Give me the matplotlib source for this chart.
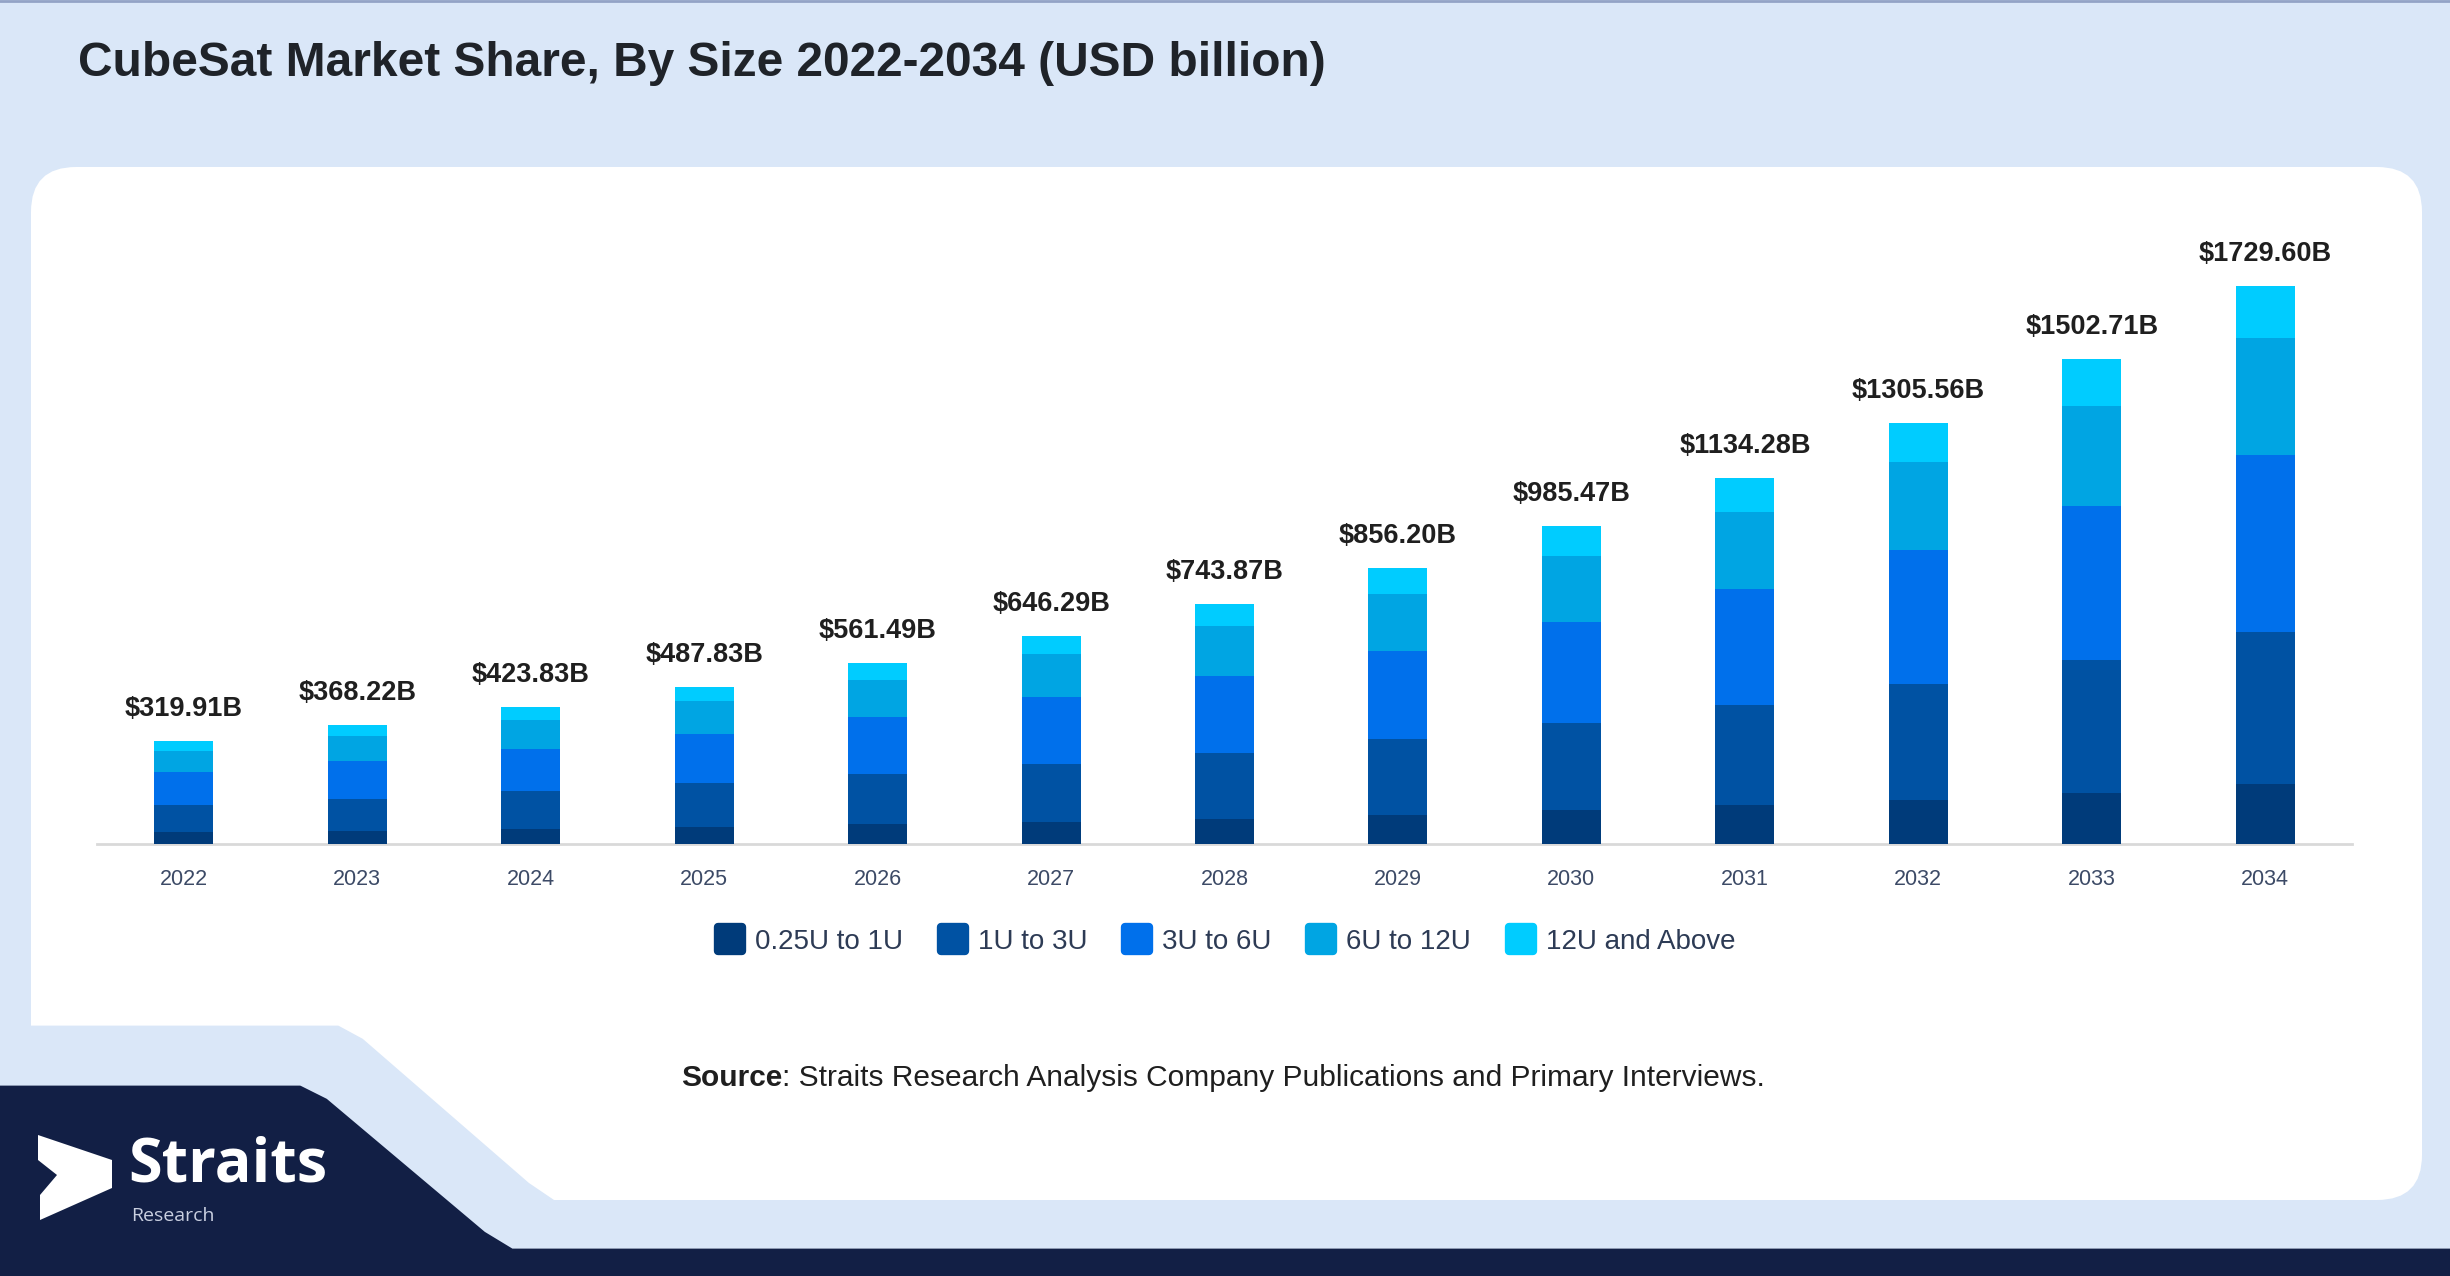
import matplotlib.pyplot as plt
from matplotlib.patches import FancyBboxPatch, Polygon
from matplotlib.lines import Line2D
from matplotlib.markers import MarkerStyle

plt.rcParams['font.family'] = ['Liberation Sans', 'DejaVu Sans']

# Dados (USD bilhões)
anos = ['2022', '2023', '2024', '2025', '2026', '2027', '2028',
        '2029', '2030', '2031', '2032', '2033', '2034']
totais = [319.91, 368.22, 423.83, 487.83, 561.49, 646.29, 743.87,
          856.20, 985.47, 1134.28, 1305.56, 1502.71, 1729.60]

seg_025_1 = [36.8, 41.1, 46.4, 53.6, 63.0, 69.5, 77.5, 90.0, 106.4, 121.2, 135.8, 157.4, 187.0]
seg_1_3 = [84.8, 98.7, 117.6, 134.1, 152.8, 178.4, 205.6, 236.6, 269.3, 311.2, 360.3, 414.4, 471.0]
seg_3_6 = [101.2, 116.2, 132.0, 153.7, 177.5, 206.4, 236.6, 271.5, 312.3, 359.7, 415.5, 477.6, 549.0]
seg_6_12 = [64.4, 79.2, 88.7, 103.1, 115.6, 133.8, 155.0, 177.4, 206.0, 237.1, 271.6, 309.4, 361.0]
seg_12_mais = [32.7, 32.9, 39.2, 43.3, 52.6, 58.1, 69.2, 80.6, 91.5, 105.1, 122.4, 143.9, 161.5]

series = [seg_025_1, seg_1_3, seg_3_6, seg_6_12, seg_12_mais]
rotulos = ['0.25U to 1U', '1U to 3U', '3U to 6U', '6U to 12U', '12U and Above']
cores = ['#003b7a', '#0052a3', '#0070eb', '#00a5e3', '#00ccff']

W, H = 2450, 1276
fig = plt.figure(figsize=(W / 100, H / 100), dpi=100)
fig.patch.set_facecolor('#dae7f8')

# Fundo: painel branco, recorte e faixa escura
bg = fig.add_axes([0, 0, 1, 1], zorder=0)
bg.set_xlim(0, W)
bg.set_ylim(H, 0)
bg.axis('off')
bg.plot([0, W], [1, 1], color='#93a3c6', lw=2)

painel = FancyBboxPatch((31, 167), 2422 - 31, 1200 - 167,
                        boxstyle='round,pad=0,rounding_size=45',
                        facecolor='white', edgecolor='none')
bg.add_patch(painel)

recorte = Polygon([(0, 1027), (338, 1027), (362, 1040), (528, 1184),
                   (556, 1203), (0, 1203)], closed=True,
                  facecolor='#dae7f8', edgecolor='#dae7f8', lw=2, joinstyle='round')
bg.add_patch(recorte)

faixa = Polygon([(0, 1087), (300, 1087), (326, 1100), (484, 1233),
                 (512, 1250), (W, 1250), (W, H), (0, H)], closed=True,
                facecolor='#121f45', edgecolor='#121f45', lw=2, joinstyle='round')
bg.add_patch(faixa)

# Logo
seta = Polygon([(38, 1135), (112, 1160), (112, 1188), (40, 1220),
                (40, 1195), (57, 1175), (38, 1160)], closed=True,
               facecolor='white', edgecolor='none')
bg.add_patch(seta)
bg.text(128, 1182, 'Straits', color='white', fontsize=44, fontweight='bold',
        family=['Open Sans', 'DejaVu Sans'], ha='left', va='baseline')
bg.text(131, 1221, 'Research', color='#c9cfe0', fontsize=14,
        family=['Open Sans', 'DejaVu Sans'], ha='left', va='baseline')

# Título
bg.text(78, 64, 'CubeSat Market Share, By Size 2022-2034 (USD billion)',
        fontsize=34.5, fontweight='bold', color='#1f2329', ha='left', va='center')

# Gráfico de barras empilhadas
ax = fig.add_axes([97 / W, 1 - 844 / H, (2352 - 97) / W, (844 - 199) / H], zorder=2)
ax.patch.set_alpha(0)
x = list(range(len(anos)))
base = [0] * len(anos)
for valores, cor, rot in zip(series, cores, rotulos):
    ax.bar(x, valores, width=0.34, bottom=base, color=cor, label=rot, zorder=3)
    base = [b + v for b, v in zip(base, valores)]

for xi, t in zip(x, totais):
    ax.annotate(f'${t:.2f}B', (xi, t), xytext=(0, 23), textcoords='offset points',
                ha='center', va='center', fontsize=19.5, fontweight='bold',
                color='#1f1f1f')

ax.set_xlim(-0.5, len(anos) - 0.5)
ax.set_ylim(0, 2000)
ax.set_xticks(x)
ax.set_xticklabels(anos, fontsize=15.5, color='#3c4a66')
ax.tick_params(axis='x', length=0, pad=18)
ax.set_yticks([])
for lado in ['top', 'right', 'left']:
    ax.spines[lado].set_visible(False)
ax.spines['bottom'].set_color('#d9d9d9')
ax.spines['bottom'].set_linewidth(2)

# Legenda com marcadores quadrados arredondados
marcador = MarkerStyle('s', joinstyle='round')
alcas = [Line2D([], [], linestyle='none', marker=marcador, markersize=17,
                markerfacecolor=c, markeredgecolor=c, markeredgewidth=6)
         for c in cores]
leg = fig.legend(alcas, rotulos, loc='center', bbox_to_anchor=(0.5, 1 - 942 / H),
                 ncol=5, frameon=False, fontsize=20, handlelength=1.1,
                 handletextpad=0.35, columnspacing=1.25)
for txt in leg.get_texts():
    txt.set_color('#2d3b55')

# Fonte
y_fonte = 1078
t1 = bg.text(681, y_fonte, 'Source', fontsize=21.5, fontweight='bold',
             color='#1f1f1f', ha='left', va='center')
fig.canvas.draw()
r = fig.canvas.get_renderer()
ext = t1.get_window_extent(renderer=r)
bg.text(681 + ext.width, y_fonte,
        ': Straits Research Analysis Company Publications and Primary Interviews.',
        fontsize=21.5, color='#1f1f1f', ha='left', va='center')

fig.savefig('out.png', dpi=100)
